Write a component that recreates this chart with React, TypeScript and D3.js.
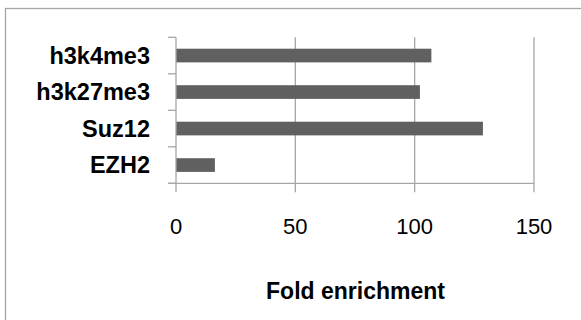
import React from "react";
import * as d3 from "d3";

// Fold enrichment per target, listed top to bottom
const categories = ["h3k4me3", "h3k27me3", "Suz12", "EZH2"];
const values = [107, 102.2, 128.6, 16.3];
const xTicks = [0, 50, 100, 150];
const xTitle = "Fold enrichment";

const W = 581;
const H = 320;

export default function App() {
  const left = 176;
  const right = 534;
  const top = 37.3;
  const bottom = 183.3;

  const x = d3.scaleLinear().domain([0, 150]).range([left, right]);
  const y = d3
    .scaleBand<string>()
    .domain(categories)
    .range([top, bottom])
    .paddingInner(0.625)
    .paddingOuter(0.3125);
  // boundaries between category bands (for the tick marks on the y axis)
  const step = (bottom - top) / categories.length;
  const boundaries = d3.range(categories.length + 1).map((i) => top + i * step);

  const font = "'Liberation Sans', Arial, sans-serif";
  const grid = "#a6a6a6";

  return (
    <svg
      width={W}
      height={H}
      style={{ position: "absolute", left: 0, top: 0, display: "block" }}
    >
      <rect x={0} y={0} width={W} height={H} fill="#fff" />
      {/* chart frame */}
      <rect x={5.5} y={8.5} width={W + 10} height={H + 10} fill="none" stroke={grid} strokeWidth={1.3} />

      {/* vertical gridlines, extending down as tick marks */}
      {xTicks.slice(1).map((t) => (
        <line key={t} x1={x(t)} x2={x(t)} y1={top} y2={bottom + 9} stroke={grid} strokeWidth={1.3} />
      ))}

      {/* bars */}
      {categories.map((c, i) => (
        <rect
          key={c}
          x={x(0)}
          y={y(c)}
          width={x(values[i]) - x(0)}
          height={y.bandwidth()}
          fill="#606060"
        />
      ))}

      {/* y axis line and its tick marks */}
      <line x1={x(0)} x2={x(0)} y1={top} y2={bottom + 9} stroke={grid} strokeWidth={1.3} />
      {boundaries.map((b, i) => (
        <line key={i} x1={x(0) - 8} x2={x(0)} y1={b} y2={b} stroke={grid} strokeWidth={1.3} />
      ))}
      {/* x axis line */}
      <line x1={x(0) - 8} x2={x(150)} y1={bottom} y2={bottom} stroke={grid} strokeWidth={1.3} />

      {/* category labels */}
      {categories.map((c) => (
        <text
          key={c}
          x={150}
          y={(y(c) as number) + y.bandwidth() / 2 + 8.3}
          textAnchor="end"
          fontFamily={font}
          fontWeight="bold"
          fontSize={23.5}
          fill="#000"
        >
          {c}
        </text>
      ))}

      {/* x tick labels */}
      {xTicks.map((t) => (
        <text
          key={t}
          x={x(t)}
          y={234}
          textAnchor="middle"
          fontFamily={font}
          fontSize={22}
          fill="#000"
        >
          {t}
        </text>
      ))}

      {/* x axis title */}
      <text
        x={355.5}
        y={299}
        textAnchor="middle"
        fontFamily={font}
        fontWeight="bold"
        fontSize={23}
        fill="#000"
      >
        {xTitle}
      </text>
    </svg>
  );
}
